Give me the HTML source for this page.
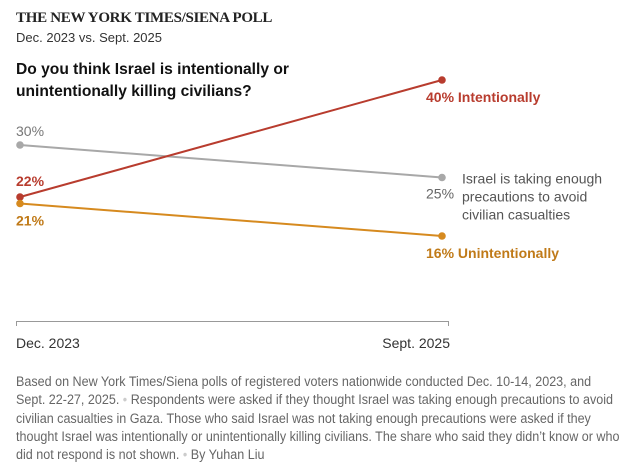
<!DOCTYPE html>
<html><head><meta charset="utf-8"><style>
body{margin:0;background:#fff;width:644px;height:467px;overflow:hidden;font-family:"Liberation Sans",sans-serif}
.t1{position:absolute;left:16px;top:10px;font:bold 15px "Liberation Serif",serif;color:#222;letter-spacing:-0.3px}
.t2{position:absolute;left:16px;top:30px;font-size:13px;color:#333}
.t3{position:absolute;left:16px;top:59px;font-weight:bold;font-size:15.6px;line-height:22px;color:#111}
.note{position:absolute;left:16px;top:373px;white-space:nowrap;font-size:13.5px;line-height:18.3px;color:#666;transform:scaleX(0.93);transform-origin:0 0}
</style></head><body>
<div class="t1">THE NEW YORK TIMES/SIENA POLL</div>
<div class="t2">Dec. 2023 vs. Sept. 2025</div>
<div class="t3">Do you think Israel is intentionally or<br>unintentionally killing civilians?</div>
<svg id="chart" width="644" height="467" style="position:absolute;left:0;top:0"></svg>
<div class="note">Based on New York Times/Siena polls of registered voters nationwide conducted Dec. 10-14, 2023, and<br>Sept. 22-27, 2025. <span style="color:#ccc">•</span> Respondents were asked if they thought Israel was taking enough precautions to avoid<br>civilian casualties in Gaza. Those who said Israel was not taking enough precautions were asked if they<br>thought Israel was intentionally or unintentionally killing civilians. The share who said they didn’t know or who<br>did not respond is not shown. <span style="color:#ccc">•</span> By Yuhan Liu</div>
<script>
const categories=["Dec. 2023","Sept. 2025"];
const seriesNames=["Precautions","Intentionally","Unintentionally"];
const precautions=[30,25];
const intentionally=[22,40];
const unintentionally=[21,16];
const colors=["#a8a8a8","#b83c2e","#d68a1f"];
const svg=document.getElementById('chart');
const NS="http://www.w3.org/2000/svg";
const x=i=>20+i*422;
const y=v=>145+(30-v)*6.5;
function mk(t,a,txt){const e=document.createElementNS(NS,t);for(const k in a)e.setAttribute(k,a[k]);if(txt!=null)e.textContent=txt;svg.appendChild(e);return e;}
const ax=mk('path',{d:'M16.5 326V321.5H448.5V326',fill:'none',stroke:'#999','stroke-width':1});


categories.forEach((c,i)=>{const t=mk('text',{x:i?450:16,y:348,'font-size':14,fill:'#333','text-anchor':i?'end':'start'},c);

});
const all=[precautions,intentionally,unintentionally];
all.forEach((s,k)=>{
 const l=mk('line',{x1:x(0),y1:y(s[0]),x2:x(1),y2:y(s[1]),stroke:colors[k],'stroke-width':2});
 
 
 s.forEach((v,i)=>{const c=mk('circle',{cx:x(i),cy:y(v),r:3.8,fill:colors[k]});
 
 });
});
function lab(txt,xx,yy,col,bold,anchor){const t=mk('text',{x:xx,y:yy,'font-size':14,fill:col,'font-weight':bold?'bold':'normal','text-anchor':anchor||'start'},txt);

return t;}
lab(precautions[0]+'%',16,y(precautions[0])-9,'#777',false);
lab(intentionally[0]+'%',16,y(intentionally[0])-11,colors[1],true);
lab(unintentionally[0]+'%',16,y(unintentionally[0])+22,'#c07a18',true);
lab(intentionally[1]+'% Intentionally',426,y(intentionally[1])+22,colors[1],true);
lab(precautions[1]+'%',426,y(precautions[1])+21,'#666',false);
lab(unintentionally[1]+'% Unintentionally',426,y(unintentionally[1])+22,'#c07a18',true);
['Israel is taking enough','precautions to avoid','civilian casualties'].forEach((s,i)=>lab(s,462,y(precautions[1])+6+i*18,'#555',false));
</script>
</body></html>
